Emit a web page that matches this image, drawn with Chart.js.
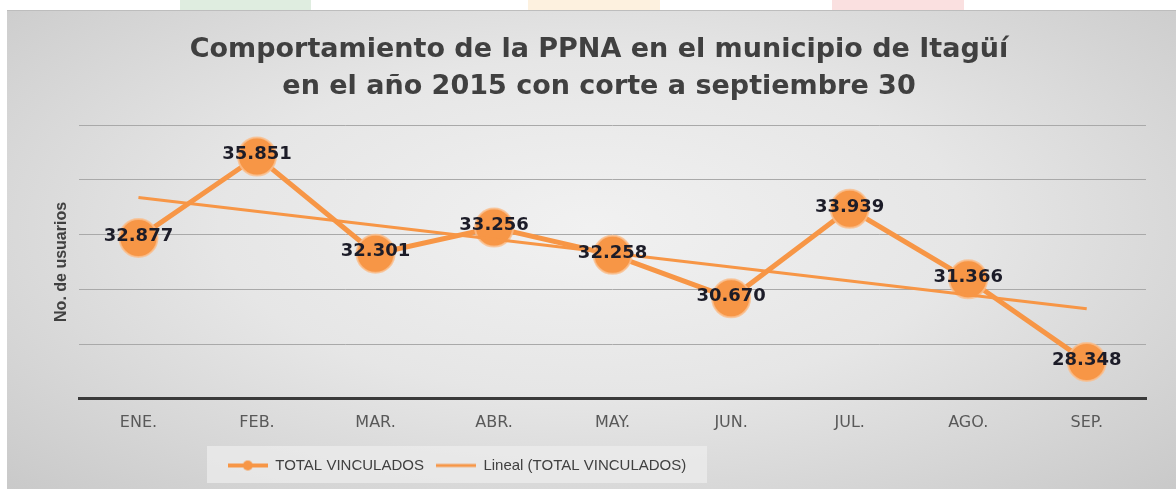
<!DOCTYPE html>
<html>
<head>
    <style>
        body {
            margin: 0;
            background: #ffffff;
            width: 1176px;
            height: 489px;
            overflow: hidden;
            position: relative;
        }
        .strip {
            position: absolute;
            top: 0;
            height: 10px;
        }
        #box {
            position: absolute;
            left: 7px;
            top: 10px;
            width: 1169px;
            height: 479px;
            background: radial-gradient(ellipse at 50% 45%, #f1f1f1 0%, #e6e6e6 45%, #c9c9c9 100%);
            border-top: 1px solid #bdbdbd;
        }
    </style>
    <script src="https://cdn.jsdelivr.net/npm/chart.js"></script>
</head>
<body>
    <div class="strip" style="left:180px; width:131px; background:#dfede0;"></div>
    <div class="strip" style="left:528px; width:132px; background:#fdf1df;"></div>
    <div class="strip" style="left:832px; width:132px; background:#fae0e0;"></div>
    <div id="box"><canvas id="myChart"></canvas></div>
    <script>
        // data
        var months = ['ENE.', 'FEB.', 'MAR.', 'ABR.', 'MAY.', 'JUN.', 'JUL.', 'AGO.', 'SEP.'];
        var totalVinculados = [32877, 35851, 32301, 33256, 32258, 30670, 33939, 31366, 28348];
        // trend line ends, as drawn in the picture
        var lineal = [34350, null, null, null, null, null, null, null, 30290];
        var titleLines = ['Comportamiento de la PPNA en el municipio de Itagüí', 'en el año 2015 con corte a septiembre 30'];
        var seriesNames = ['TOTAL VINCULADOS', 'Lineal (TOTAL VINCULADOS)'];

        var orange = '#f79646';

        function fmt(v) {
            return String(v).replace(/\B(?=(\d{3})+(?!\d))/g, '.');
        }

        // legend symbols: line with a dot, and a plain line
        function legendIcon(withDot) {
            var c = document.createElement('canvas');
            c.width = 40; c.height = 12;
            var g = c.getContext('2d');
            g.strokeStyle = orange;
            g.lineWidth = withDot ? 4 : 3;
            g.beginPath(); g.moveTo(0, 6); g.lineTo(40, 6); g.stroke();
            if (withDot) {
                g.fillStyle = orange;
                g.beginPath(); g.arc(20, 6, 5, 0, Math.PI * 2); g.fill();
            }
            return c;
        }
        var icons = [legendIcon(true), legendIcon(false)];

        // number labels on the points
        var pointLabels = {
            id: 'pointLabels',
            afterDatasetsDraw: function(chart) {
                var ctx = chart.ctx;
                var meta = chart.getDatasetMeta(0);
                ctx.save();
                ctx.font = 'bold 18px "DejaVu Sans"';
                ctx.fillStyle = '#1c1c28';
                ctx.textAlign = 'center';
                ctx.textBaseline = 'middle';
                meta.data.forEach(function(pt, i) {
                    ctx.fillText(fmt(totalVinculados[i]), pt.x, pt.y - 2);
                });
                ctx.restore();
            }
        };

        // legend sits left of centre, on a lighter box
        var legendBox = {
            id: 'legendBox',
            afterLayout: function(chart) {
                var lg = chart.legend;
                lg.left = 200;
                lg.right = 700;
                lg.width = 500;
            },
            beforeDraw: function(chart) {
                var lg = chart.legend;
                var ctx = chart.ctx;
                ctx.save();
                ctx.fillStyle = 'rgba(236,236,236,0.75)';
                ctx.fillRect(lg.left, lg.top, lg.right - lg.left, lg.bottom - lg.top);
                ctx.restore();
            }
        };

        var ctx = document.getElementById('myChart').getContext('2d');
        var myChart = new Chart(ctx, {
            type: 'line',
            data: {
                labels: months,
                datasets: [{
                    label: seriesNames[0],
                    data: totalVinculados,
                    borderColor: orange,
                    backgroundColor: orange,
                    borderWidth: 5,
                    pointRadius: 19,
                    pointBackgroundColor: orange,
                    pointBorderColor: 'rgba(250,190,140,0.8)',
                    pointBorderWidth: 2,
                    tension: 0,
                    order: 1
                }, {
                    label: seriesNames[1],
                    data: lineal,
                    borderColor: orange,
                    borderWidth: 3,
                    pointRadius: 0,
                    spanGaps: true,
                    tension: 0,
                    order: 0
                }]
            },
            options: {
                responsive: true,
                maintainAspectRatio: false,
                animation: false,
                layout: {
                    padding: { top: 20, right: 30, bottom: 7, left: 45 }
                },
                plugins: {
                    tooltip: { enabled: false },
                    title: {
                        display: true,
                        text: titleLines,
                        color: '#404040',
                        font: { family: 'DejaVu Sans', size: 27, weight: 'bold', lineHeight: 1.39 },
                        padding: { top: 0, bottom: 19 }
                    },
                    legend: {
                        position: 'bottom',
                        labels: {
                            usePointStyle: true,
                            pointStyleWidth: 40,
                            padding: 12,
                            color: '#404040',
                            font: { family: 'Liberation Sans', size: 15 },
                            generateLabels: function(chart) {
                                return seriesNames.map(function(name, i) {
                                    return {
                                        text: name,
                                        pointStyle: icons[i],
                                        fillStyle: orange,
                                        strokeStyle: orange,
                                        lineWidth: 0,
                                        hidden: false,
                                        datasetIndex: i,
                                        fontColor: '#404040'
                                    };
                                });
                            }
                        }
                    }
                },
                scales: {
                    x: {
                        offset: true,
                        grid: { display: false, drawTicks: false },
                        border: { display: true, color: '#3a3a3a', width: 3 },
                        ticks: {
                            color: '#595959',
                            padding: 14,
                            font: { family: 'DejaVu Sans', size: 16 }
                        }
                    },
                    y: {
                        min: 27000,
                        max: 37000,
                        ticks: { display: false, stepSize: 2000 },
                        grid: { color: '#a9a9a9', lineWidth: 1, drawTicks: false },
                        border: { display: false },
                        title: {
                            display: true,
                            text: 'No. de usuarios',
                            color: '#404040',
                            font: { family: "'Liberation Sans Narrow', 'Liberation Sans'", size: 16, weight: 'bold' },
                            padding: { top: 0, bottom: 8 }
                        }
                    }
                }
            },
            plugins: [pointLabels, legendBox]
        });
    </script>
</body>
</html>
